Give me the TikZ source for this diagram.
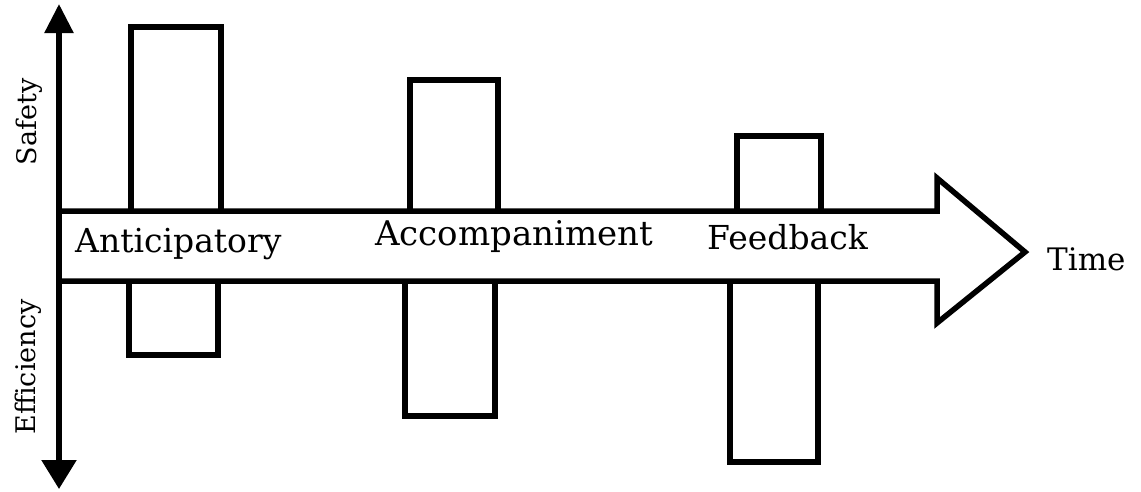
\documentclass[tikz,border=0pt]{standalone}
\usepackage{fontspec}
\setmainfont{DejaVu Serif}
\usetikzlibrary{arrows.meta}
\begin{document}
\begin{tikzpicture}[x=1pt,y=-1pt,
  line/.style={line width=5.5pt,line join=miter},
  bar/.style={line width=5.5pt,fill=white},
  lbl/.style={inner sep=0pt,anchor=base west,font=\fontsize{33}{36}\selectfont},
  axlbl/.style={inner sep=0pt,rotate=90,font=\fontsize{27}{30}\selectfont}]
\useasboundingbox (0,0) rectangle (1141,491);
% bars (upper)
\draw[bar] (131,211) -- (131,27) -- (221,27) -- (221,211);
\draw[bar] (410,211) -- (410,80) -- (498,80) -- (498,211);
\draw[bar] (737,211) -- (737,136) -- (821,136) -- (821,211);
% bars (lower)
\draw[bar] (129,281) -- (129,355) -- (218,355) -- (218,281);
\draw[bar] (405,281) -- (405,416) -- (495,416) -- (495,281);
\draw[bar] (730,281) -- (730,462) -- (818,462) -- (818,281);
% big arrow
\coordinate (tl) at (59,211);
\coordinate (bl) at (59,281);
\draw[line] (tl) -- (937,211) -- (937,178) -- (1025,252) -- (937,323) -- (937,281) -- (bl);
% vertical axis
\coordinate (atop) at (59,4);
\coordinate (abot) at (59,489);
\draw[line width=5.5pt,{Triangle[length=29pt,width=28pt]}-{Triangle[length=29pt,width=34pt]}] (atop) -- (abot);
% labels
\node[lbl] (ant) at (75,252) {Anticipatory};
\node[lbl,font=\fontsize{34}{37}\selectfont] (acc) at (375,245) {Accompaniment};
\node[lbl] (fb) at (707,249) {Feedback};
\node[lbl,font=\fontsize{31}{34}\selectfont] (time) at (1047,270) {Time};
\node[axlbl] (saf) at (29,122) {Safety};
\node[axlbl] (eff) at (28,367) {Efficiency};
\end{tikzpicture}
\end{document}
